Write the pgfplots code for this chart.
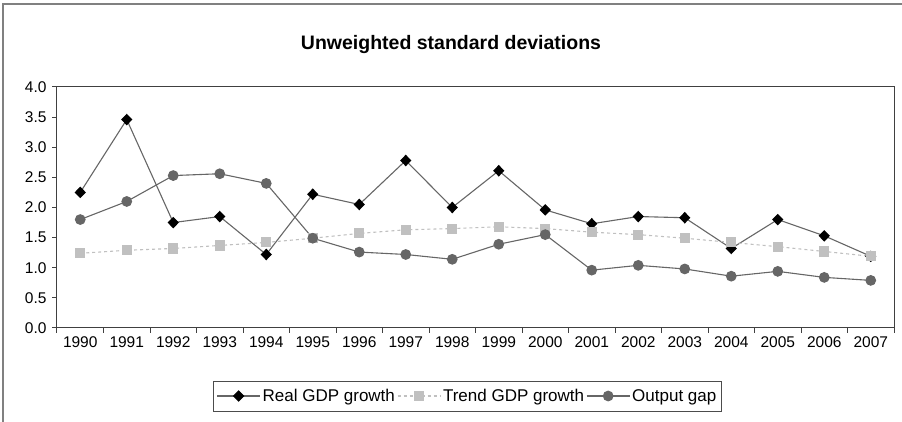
\documentclass[border=0pt]{standalone}
\usepackage{fontspec}
\setmainfont{Liberation Sans}
\usepackage{pgfplots}
\pgfplotsset{compat=1.18}
\definecolor{dgray}{HTML}{666666}
\definecolor{lgray}{HTML}{C0C0C0}
\definecolor{axgray}{HTML}{404040}
\begin{document}
\begin{tikzpicture}[x=1pt,y=1pt]
\useasboundingbox (0,0) rectangle (902,422);
\draw[color=gray, line width=1.2pt] (3,0) -- (3,418) -- (902,418);
\node[font=\fontsize{19.5}{22}\selectfont\bfseries] at (451,377) {Unweighted standard deviations};
\begin{axis}[
  at={(57pt,94pt)}, anchor=south west, scale only axis,
  width=837pt, height=241pt,
  xmin=-0.5, xmax=17.5, ymin=0, ymax=4,
  xtick={-0.5,0.5,...,17.5}, xticklabel=\empty,
  extra x ticks={0,1,...,17},
  extra x tick labels={1990,1991,1992,1993,1994,1995,1996,1997,1998,1999,2000,2001,2002,2003,2004,2005,2006,2007},
  extra x tick style={major tick length=0pt},
  ytick={0,0.5,...,4},
  yticklabel style={xshift=-2pt, /pgf/number format/.cd, fixed, fixed zerofill, precision=1},
  /pgf/number format/assume math mode=true,
  tick align=outside, tick pos=left, major tick length=5pt,
  tick style={axgray, line width=1pt},
  axis line style={axgray, line width=1pt},
  ticklabel style={font=\fontsize{15.5}{18}\selectfont},
  xticklabel style={yshift=-5pt},
  legend image code/.code={\draw[mark repeat=2,mark phase=2,#1] plot coordinates {(0pt,0pt) (21.5pt,0pt) (43pt,0pt)};},
  legend columns=3,
  legend style={at={(0.4904,-0.2822)}, anchor=center, draw=black!70, line width=0.8pt,
    font=\fontsize{17}{20}\selectfont, inner xsep=3pt, inner ysep=6pt,
    /tikz/every even column/.append style={column sep=0pt}},
]
\addplot[dgray, line width=1.1pt, mark=diamond*, mark size=5pt, mark options={black, fill=black, solid, xscale=1.3}] coordinates {
(0,2.25) (1,3.46) (2,1.75) (3,1.85) (4,1.22) (5,2.22) (6,2.05) (7,2.78) (8,2.00)
(9,2.61) (10,1.96) (11,1.73) (12,1.85) (13,1.83) (14,1.32) (15,1.80) (16,1.53) (17,1.19)};
\addlegendentry{Real GDP growth}
\addplot[lgray, line width=1.1pt, dashed, mark=square*, mark size=4.5pt, mark options={lgray, fill=lgray, solid}] coordinates {
(0,1.24) (1,1.29) (2,1.32) (3,1.37) (4,1.42) (5,1.49) (6,1.57) (7,1.63) (8,1.65)
(9,1.68) (10,1.65) (11,1.59) (12,1.55) (13,1.49) (14,1.42) (15,1.35) (16,1.27) (17,1.19)};
\addlegendentry{Trend GDP growth}
\addplot[dgray, line width=1.1pt, mark=*, mark size=4.8pt, mark options={dgray, fill=dgray, solid}] coordinates {
(0,1.80) (1,2.10) (2,2.53) (3,2.56) (4,2.40) (5,1.49) (6,1.26) (7,1.22) (8,1.14)
(9,1.39) (10,1.55) (11,0.96) (12,1.04) (13,0.98) (14,0.86) (15,0.94) (16,0.84) (17,0.79)};
\addlegendentry{Output gap}
\end{axis}
\end{tikzpicture}
\end{document}
